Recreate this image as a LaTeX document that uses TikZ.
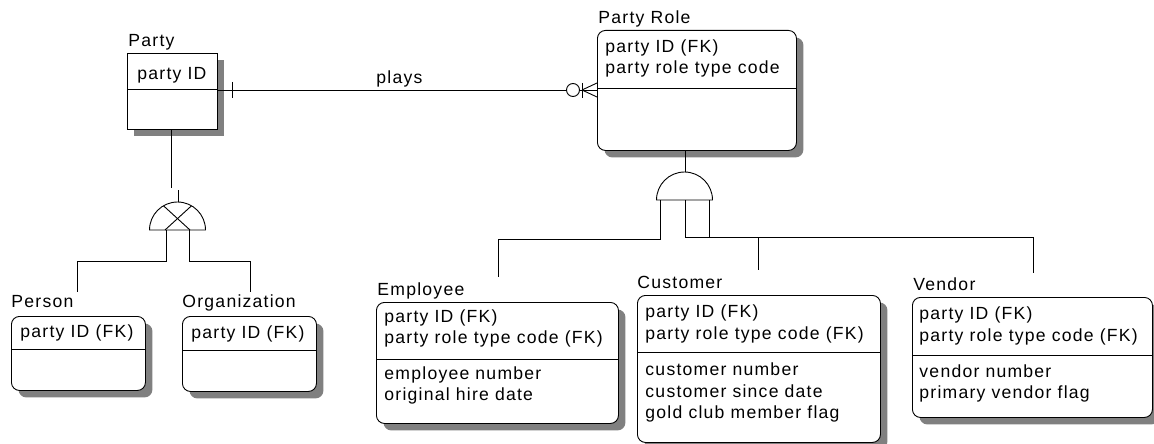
\documentclass[tikz,border=0pt]{standalone}
\usepackage{fontspec}
\setmainfont{Liberation Sans}[LetterSpace=7]
\usetikzlibrary{shadows}
\begin{document}
\begin{tikzpicture}[x=1pt,y=-1pt,line width=0.9pt,
  ent/.style={draw, fill=white, inner sep=0pt, anchor=north west,
    drop shadow={shadow xshift=7pt, shadow yshift=-7pt, fill=black!50, opacity=1}},
  rent/.style={ent, rounded corners=8pt},
  txt/.style={anchor=base west, inner sep=0pt, font=\fontsize{17.6}{20}\selectfont},
  conn/.style={line width=0.9pt}]
\useasboundingbox (0,0) rectangle (1154,444);

% ---------- entities ----------
\node[ent,  minimum width=90pt,  minimum height=76pt]  (party) at (127,53) {};
\node[rent, minimum width=199pt, minimum height=120pt] (prole) at (597,30) {};
\node[rent, minimum width=134pt, minimum height=74pt]  (person) at (11,316) {};
\node[rent, minimum width=134pt, minimum height=75pt]  (org) at (182,316) {};
\node[rent, minimum width=242pt, minimum height=121pt] (emp) at (376,302) {};
\node[rent, minimum width=243pt, minimum height=147pt] (cust) at (637,295) {};
\node[rent, minimum width=240pt, minimum height=120pt] (vend) at (912,297) {};

% dividers
\draw (party.west |- 0,89) -- (party.east |- 0,89);
\draw (prole.west |- 0,88) -- (prole.east |- 0,88);
\draw (person.west |- 0,349) -- (person.east |- 0,349);
\draw (org.west |- 0,350) -- (org.east |- 0,350);
\draw (emp.west |- 0,359) -- (emp.east |- 0,359);
\draw (cust.west |- 0,352) -- (cust.east |- 0,352);
\draw (vend.west |- 0,355) -- (vend.east |- 0,355);

% titles
\node[txt] (tparty) at (128,47) {Party};
\node[txt] (tprole) at (598,24) {Party Role};
\node[txt] (tperson) at (11,307) {Person};
\node[txt] (torg) at (182,307) {Organization};
\node[txt] (temp) at (377,295) {Employee};
\node[txt] (tcust) at (637,288) {Customer};
\node[txt] (tvend) at (913,290) {Vendor};

% attributes
\node[txt] (a1) at (137,79) {party ID};
\node[txt] (b1) at (605,53) {party ID (FK)};
\node[txt] (b2) at (605,74) {party role type code};
\node[txt] (c1) at (20,337) {party ID (FK)};
\node[txt] (d1) at (191,338) {party ID (FK)};
\node[txt] (e1) at (384,322) {party ID (FK)};
\node[txt] (e2) at (384,343) {party role type code (FK)};
\node[txt] (e3) at (384,379) {employee number};
\node[txt] (e4) at (384,400) {original hire date};
\node[txt] (f1) at (645,317) {party ID (FK)};
\node[txt] (f2) at (645,339) {party role type code (FK)};
\node[txt] (f3) at (645,375) {customer number};
\node[txt] (f4) at (645,397) {customer since date};
\node[txt] (f5) at (645,418) {gold club member flag};
\node[txt] (g1) at (919,319) {party ID (FK)};
\node[txt] (g2) at (919,341) {party role type code (FK)};
\node[txt] (g3) at (919,377) {vendor number};
\node[txt] (g4) at (919,398) {primary vendor flag};

% ---------- relationship "plays" ----------
\draw[conn] (party.east |- 0,90) -- (prole.west |- 0,90);
\draw[conn] (232,82) -- (232,98);
\draw[conn] (582,90) -- (prole.west |- 0,83);
\draw[conn] (582,90) -- (prole.west |- 0,97);
\draw[conn] (582,83) -- (582,98);
\draw[conn, fill=white] (573,90) circle[radius=6.5];
\node[txt] (plays) at (376,84) {plays};

% ---------- Party subtype (exclusive) ----------
\coordinate (ps) at (177.5,230);
\draw[conn] (party.south -| 171,0) -- (171,188);
\draw[conn] (178,190) -- (178,202);
\draw[conn] (149.5,230) arc[start angle=180, end angle=360, radius=28] -- cycle;
\draw[conn] (165,230) -- (191.5,205.8);
\draw[conn] (190,230) -- (163.5,205.8);
\draw[conn] (166,230) |- (77,261) -- (77,292);
\draw[conn] (189,230) |- (250,261) -- (250,292);

% ---------- Party Role subtype (inclusive) ----------
\coordinate (rs) at (684.5,200);
\draw[conn] (prole.south -| 685,0) -- (685,172);
\draw[conn] (656.5,200) arc[start angle=180, end angle=360, radius=28] -- cycle;
\draw[conn] (660,200) |- (498,239) -- (498,277);
\draw[conn] (685,200) |- (758,237) -- (758,270);
\draw[conn] (709,200) |- (1033,237) -- (1033,273);
\end{tikzpicture}
\end{document}
